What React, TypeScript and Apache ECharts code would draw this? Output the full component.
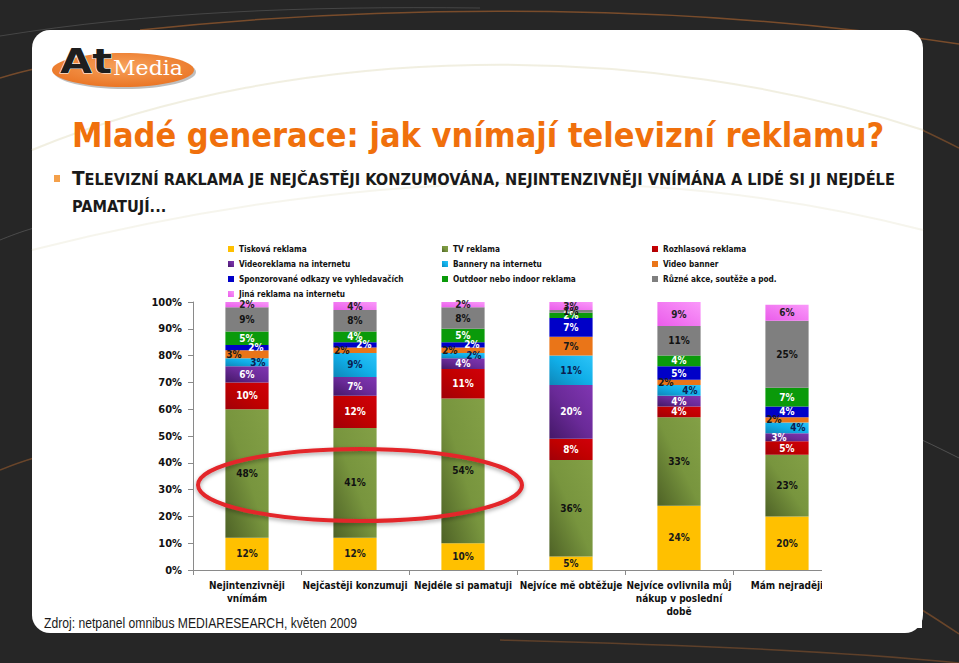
import React, { useEffect, useRef } from "react";
import * as echarts from "echarts";

const categories = [
  "Nejintenzivněji\nvnímám",
  "Nejčastěji konzumuji",
  "Nejdéle si pamatuji",
  "Nejvíce mě obtěžuje",
  "Nejvíce ovlivnila můj\nnákup v poslední\ndobě",
  "Mám nejraději",
];

const seriesNames = [
  "Tisková reklama",
  "TV reklama",
  "Rozhlasová reklama",
  "Videoreklama na internetu",
  "Bannery na internetu",
  "Video banner",
  "Sponzorované odkazy ve vyhledavačích",
  "Outdoor nebo indoor reklama",
  "Různé akce, soutěže a pod.",
  "Jiná reklama na internetu",
];

const tiskova = [12, 12, 10, 5, 24, 20];
const tvReklama = [48, 41, 54, 36, 33, 23];
const rozhlasova = [10, 12, 11, 8, 4, 5];
const videoreklama = [6, 7, 4, 20, 4, 3];
const bannery = [3, 9, 2, 11, 4, 4];
const videoBanner = [3, 2, 2, 7, 2, 2];
const sponzorovane = [2, 2, 2, 7, 5, 4];
const outdoor = [5, 4, 5, 2, 4, 7];
const ruzne = [9, 8, 8, 1, 11, 25];
const jina = [2, 4, 2, 3, 9, 6];

const seriesValues = [
  tiskova, tvReklama, rozhlasova, videoreklama, bannery,
  videoBanner, sponzorovane, outdoor, ruzne, jina,
];

const legendColumns = [
  [0, 3, 6, 9],
  [1, 4, 7],
  [2, 5, 8],
];

const FONT_C = "'DejaVu Sans Condensed', 'DejaVu Sans', sans-serif";

const lin = (stops: string[]) => ({
  type: "linear",
  x: 1, y: 0, x2: 0, y2: 1,
  colorStops: stops.map((c, i) => ({ offset: i / (stops.length - 1), color: c })),
});

const seriesColors: any[] = [
  "#ffc000",
  lin(["#83a046", "#78953e", "#4e6226"]),
  lin(["#d0000a", "#c00000", "#a00008"]),
  lin(["#8036b2", "#6a2a98", "#441868"]),
  lin(["#2cc4f8", "#10aee8", "#0e86b8"]),
  "#ea7518",
  "#0000c8",
  "#0a9a0a",
  "#7f7f7f",
  lin(["#fa98fa", "#f27af2", "#ea5cea"]),
];

const labelColors = [
  "#1a1a1a", "#111111", "#ffffff", "#ffffff", "#0b2050",
  "#1a1a1a", "#ffffff", "#ffffff", "#111111", "#222222",
];

// Excel-like sideways nudge of small labels that would otherwise collide
const nudge = (si: number, v: number): number[] | undefined => {
  if (si === 5 && v <= 3) return [-13, 0];
  if (si === 4 && v <= 4) return [11, 0];
  if (si === 6 && v <= 2) return [9, 0];
  if (si === 3 && v <= 3) return [-8, 0];
  return undefined;
};

const measure = (text: string, font: string) => {
  const c = document.createElement("canvas");
  const ctx = c.getContext("2d") as CanvasRenderingContext2D;
  ctx.font = font;
  return ctx.measureText(text).width;
};

export default function App() {
  const ref = useRef<HTMLDivElement>(null);

  useEffect(() => {
    document.body.style.margin = "0";
    if (!ref.current) return;
    const chart = echarts.init(ref.current, null, { renderer: "svg" });

    const titleText = "Mladé generace: jak vnímají televizní reklamu?";
    const titleScale = 813 / measure(titleText, "bold 34px 'DejaVu Sans'");

    const subFam = "'DejaVu Sans Condensed'";
    const subBig = "T";
    const subRest =
      "ELEVIZNÍ RAKLAMA JE NEJČASTĚJI KONZUMOVÁNA, NEJINTENZIVNĚJI VNÍMÁNA A LIDÉ SI JI NEJDÉLE";
    const wBig = measure(subBig, `bold 19px ${subFam}`);
    const wRest = measure(subRest, `bold 15px ${subFam}`);
    const subScale = 823 / (wBig + wRest);

    const footText = "Zdroj: netpanel omnibus MEDIARESEARCH, květen 2009";
    const footScale = 313 / measure(footText, "14px 'Liberation Sans'");

    const mediaScale = 70 / measure("Media", "21px 'DejaVu Serif'");
    const atScale = 52 / measure("At", "bold 34px 'DejaVu Sans'");

    const streak = (x1: number, y1: number, c1x: number, c1y: number, c2x: number, c2y: number, x2: number, y2: number, color: string, w = 1.5, z = -9) => ({
      type: "bezierCurve",
      z,
      silent: true,
      shape: { x1, y1, cpx1: c1x, cpy1: c1y, cpx2: c2x, cpy2: c2y, x2, y2 },
      style: { stroke: color, lineWidth: w, fill: "none" },
    });

    const graphic: any[] = [
      { type: "rect", z: -10, silent: true, shape: { x: 0, y: 0, width: 959, height: 663 }, style: { fill: "#262626" } },
      streak(140, 30, 400, 2, 700, 4, 959, 44, "rgba(150,90,45,0.75)"),
      streak(0, 36, 150, 12, 300, 6, 480, 8, "rgba(130,130,130,0.35)", 1),
      streak(0, 78, 10, 75, 20, 72, 34, 69, "rgba(150,90,45,0.7)"),
      streak(0, 240, 10, 236, 20, 232, 34, 228, "rgba(130,130,130,0.4)", 1),
      streak(0, 470, 10, 466, 20, 462, 34, 458, "rgba(150,90,45,0.6)"),
      streak(922, 130, 935, 136, 947, 142, 959, 148, "rgba(150,90,45,0.6)"),
      streak(922, 440, 935, 446, 947, 452, 959, 458, "rgba(130,130,130,0.45)", 1),
      streak(922, 610, 935, 618, 947, 626, 959, 634, "rgba(150,90,45,0.6)"),
      streak(500, 640, 700, 645, 850, 652, 959, 663, "rgba(150,90,45,0.5)"),
      { type: "rect", z: -8, silent: true, shape: { x: 32, y: 30, width: 891, height: 603, r: 18 }, style: { fill: "#ffffff" } },
      streak(32, 150, 300, 40, 650, 40, 923, 130, "rgba(230,225,200,0.55)", 2, -7),
      streak(32, 250, 350, 170, 650, 160, 923, 230, "rgba(235,232,215,0.45)", 2, -7),
      streak(860, 470, 880, 476, 900, 482, 920, 488, "rgba(225,222,200,0.6)", 1.5, -7),
      streak(860, 520, 880, 526, 900, 532, 920, 538, "rgba(225,222,200,0.6)", 1.5, -7),
      // logo
      { type: "ellipse", z: 10, silent: true, shape: { cx: 125, cy: 72, rx: 71, ry: 17 }, style: { fill: "rgba(0,0,0,0.25)" } },
      {
        type: "ellipse", z: 11, silent: true, shape: { cx: 123, cy: 70, rx: 71, ry: 17 },
        style: {
          fill: { type: "radial", x: 0.5, y: 0.4, r: 0.7, colorStops: [{ offset: 0, color: "#f7a25c" }, { offset: 1, color: "#e86e1c" }] },
        },
      },
      {
        type: "text", z: 12, silent: true, x: 60, y: 61, scaleX: atScale,
        style: { text: "At", fontSize: 34, fontWeight: "bold", fontFamily: "'DejaVu Sans', sans-serif", fill: "#1e1e1e", stroke: "#ffffff", lineWidth: 1, textAlign: "left", textVerticalAlign: "middle" },
      },
      {
        type: "text", z: 12, silent: true, x: 113, y: 68, scaleX: mediaScale,
        style: { text: "Media", fontSize: 21, fontFamily: "'DejaVu Serif', serif", fill: "#ffffff", textAlign: "left", textVerticalAlign: "middle" },
      },
      // title
      {
        type: "text", z: 10, silent: true, x: 72, y: 135, scaleX: titleScale,
        style: { text: titleText, fontSize: 34, fontWeight: "bold", fontFamily: "'DejaVu Sans', sans-serif", fill: "#f0700c", textAlign: "left", textVerticalAlign: "middle" },
      },
      { type: "rect", z: 10, silent: true, shape: { x: 54, y: 175, width: 6, height: 7 }, style: { fill: "#f4a04a" } },
      {
        type: "text", z: 10, silent: true, x: 72, y: 178.4, scaleX: subScale,
        style: { text: subBig, fontSize: 19, fontWeight: "bold", fontFamily: subFam, fill: "#1a1a1a", textAlign: "left", textVerticalAlign: "middle" },
      },
      {
        type: "text", z: 10, silent: true, x: 72 + wBig * subScale, y: 179.8, scaleX: subScale,
        style: { text: subRest, fontSize: 15, fontWeight: "bold", fontFamily: subFam, fill: "#1a1a1a", textAlign: "left", textVerticalAlign: "middle" },
      },
      {
        type: "text", z: 10, silent: true, x: 72, y: 206.8, scaleX: subScale,
        style: { text: "PAMATUJÍ...", fontSize: 15, fontWeight: "bold", fontFamily: subFam, fill: "#1a1a1a", textAlign: "left", textVerticalAlign: "middle" },
      },
      {
        type: "text", z: 10, silent: true, x: 44, y: 623.5, scaleX: footScale,
        style: { text: footText, fontSize: 14, fontFamily: "'Liberation Sans', Arial, sans-serif", fill: "#1a1a1a", textAlign: "left", textVerticalAlign: "middle" },
      },
      // the chart picture is cut off on the right in the original slide
      { type: "rect", z: 50, silent: true, shape: { x: 822, y: 236, width: 100, height: 392 }, style: { fill: "#ffffff" } },
      {
        type: "ellipse", z: 60, silent: true, shape: { cx: 360, cy: 485, rx: 162, ry: 36 },
        style: { fill: "none", stroke: "#e3262b", lineWidth: 4, shadowBlur: 4, shadowOffsetY: 2, shadowColor: "rgba(0,0,0,0.35)" },
      },
    ];

    const series = seriesNames.map((name, si) => ({
      name,
      type: "bar",
      stack: "total",
      barWidth: "40%",
      itemStyle: { color: seriesColors[si] },
      emphasis: { disabled: true },
      label: {
        show: true,
        position: "inside",
        formatter: "{c}%",
        color: labelColors[si],
        fontSize: 10,
        fontWeight: "bold",
        fontFamily: FONT_C,
      },
      data: seriesValues[si].map((v) => {
        const off = nudge(si, v);
        return off ? { value: v, label: { offset: off } } : { value: v };
      }),
    }));

    const legend = legendColumns.map((col, ci) => ({
      orient: "vertical",
      left: [228, 442, 652][ci],
      top: 243,
      padding: 0,
      itemWidth: 6,
      itemHeight: 6,
      itemGap: 3,
      icon: "rect",
      selectedMode: false,
      data: col.map((i) => seriesNames[i]),
      textStyle: { fontSize: 8.2, fontWeight: "bold", fontFamily: FONT_C, color: "#111", lineHeight: 12 },
    }));

    chart.setOption({
      animation: false,
      backgroundColor: "transparent",
      textStyle: { fontFamily: FONT_C },
      graphic,
      legend,
      grid: { left: 193, top: 302, width: 648, height: 268 },
      xAxis: {
        type: "category",
        data: categories,
        axisLine: { show: true, lineStyle: { color: "#8a8a8a", width: 1 } },
        axisTick: { show: true, length: 5, lineStyle: { color: "#8a8a8a" } },
        axisLabel: {
          interval: 0, color: "#111", fontSize: 10, fontWeight: "bold", fontFamily: FONT_C,
          lineHeight: 13, margin: 9,
        },
      },
      yAxis: {
        type: "value",
        min: 0,
        max: 100,
        interval: 10,
        axisLine: { show: true, lineStyle: { color: "#8a8a8a", width: 1 } },
        axisTick: { show: true, length: 5, lineStyle: { color: "#8a8a8a" } },
        splitLine: { show: false },
        axisLabel: { formatter: "{value}%", color: "#111", fontSize: 11, fontWeight: "bold", fontFamily: FONT_C, margin: 11 },
      },
      series,
    });

    return () => chart.dispose();
  }, []);

  return <div ref={ref} style={{ width: 959, height: 663 }} />;
}
